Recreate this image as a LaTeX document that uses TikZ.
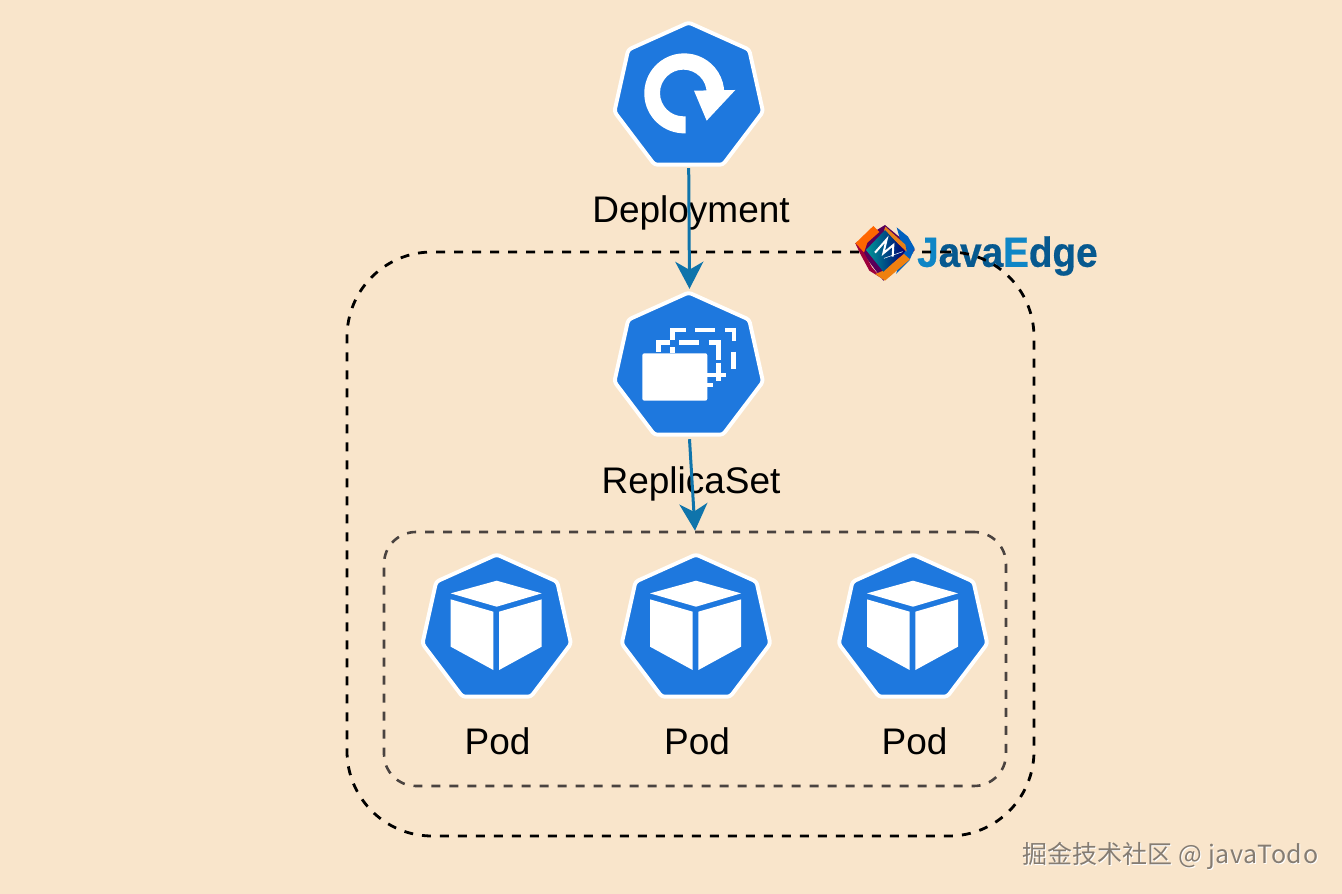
\documentclass[tikz,border=0pt]{standalone}
\usepackage{fontspec}
\setmainfont{Liberation Sans}
\newfontfamily\cjkfont{Noto Sans CJK SC}
\newfontfamily\wmlatin[LetterSpace=2.4]{Noto Sans CJK SC}
\newfontfamily\logofont[FakeBold=0.7]{Liberation Sans Bold}
\usetikzlibrary{arrows.meta,shadings}
\definecolor{bgcol}{HTML}{F9E5CB}
\definecolor{kblue}{HTML}{1E78DE}
\definecolor{arrowcol}{HTML}{0F74AB}
\definecolor{innerdash}{HTML}{4A4340}
\definecolor{wmcol}{HTML}{857C72}
\definecolor{logoblue}{HTML}{0F86C6}
\definecolor{logodark}{HTML}{07598F}
\tikzset{
  x=1pt,y=1pt,
  hept/.pic={
    \fill[kblue,draw=white,line width=3.9pt,rounded corners=3pt,line join=round]
      (0,-1.8)--(60.5,-29)--(74.3,-91)--(34.2,-144)--(-34.2,-144)--(-74.3,-91)--(-60.5,-29)--cycle;
  },
  podglyph/.pic={
    \begin{scope}[scale=1/3,yscale=-1]
      \fill[white] (0,84)--(135,122)--(0,162)--(-138,122)--cycle;
      \fill[white] (-138,140)--(-10,177)--(-10,352)--(-138,282)--cycle;
      \fill[white] (7,177)--(135,140)--(135,282)--(7,352)--cycle;
    \end{scope}
  },
  frameouter/.style={draw=black,line width=2.8pt,dash pattern=on 9pt off 9pt,rounded corners=85pt,inner sep=0pt},
  frameinner/.style={draw=innerdash,line width=2.6pt,dash pattern=on 9pt off 9pt,rounded corners=32pt,inner sep=0pt},
  flow/.style={draw=arrowcol,line width=3pt,-{Stealth[length=27pt,width=28pt,inset=8pt]}},
  label/.style={font=\fontsize{37}{40}\selectfont,text=black,inner sep=0pt},
  slot/.style={inner sep=0pt,minimum width=150pt,minimum height=150pt},
  rsline/.style={draw=white,line width=4.6pt},
}
\begin{document}
\begin{tikzpicture}
\useasboundingbox (0,0) rectangle (1342,894);
\fill[bgcol] (0,0) rectangle (1342,894);

% logo wordmark (under the frame)
\node[inner sep=0pt,anchor=west,font=\logofont\fontsize{42}{44}\selectfont,xscale=0.92] (logotext) at (917,894-256)
  {\textcolor{logoblue}{J}\textcolor{logodark}{ava}\textcolor{logoblue}{E}\textcolor{logodark}{dge}};

% frames
\node[frameouter,minimum width=687pt,minimum height=584pt] (outerbox) at (690.5,894-544) {};
\node[frameinner,minimum width=622pt,minimum height=254pt] (podbox) at (695,894-659) {};

% slots for icons
\node[slot] (dep) at (688.7,894-93) {};
\node[slot] (rs) at (689.5,894-364) {};

% labels
\node[label] (deplabel) at (691,894-213) {Deployment};
\node[label] (rslabel) at (691,894-484) {ReplicaSet};
\node[label] (pod1) at (497.5,894-741) {Pod};
\node[label] (pod2) at (697,894-741) {Pod};
\node[label] (pod3) at (914.5,894-741) {Pod};

% connectors
\draw[flow] (dep.south) -- (rs.north);
\draw[flow] (rs.south) -- (podbox.north);

% heptagons
\pic at (688.7,894-20.7) {hept};
\pic at (688.7,894-290.7) {hept};
\pic at (496.7,894-552.7) {hept};
\pic at (696,894-552.7) {hept};
\pic at (913,894-552.7) {hept};

% pod glyphs
\pic at (496.7,894-552.7) {podglyph};
\pic at (696,894-552.7) {podglyph};
\pic at (913,894-552.7) {podglyph};

% deployment glyph
\begin{scope}[shift={(590,894)},scale=1/3,yscale=-1]
  \fill[white] (287,400) arc[start angle=88,end angle=360,radius=120]
     -- (350,279) arc[start angle=360,end angle=90,radius=70] -- (287,349) -- cycle;
  \fill[white] (312,272)--(436,270)--(350,362)--cycle;
\end{scope}

% replicaset glyph
\begin{scope}[shift={(590,894-270)},scale=1/3,yscale=-1]
  \fill[white,rounded corners=2pt] (157,250) rectangle (352,392);
  \draw[rsline] (248,210)--(248,180)--(288,180);
  \draw[rsline] (316,180)--(375,180);
  \draw[rsline] (405,180)--(432,180)--(432,212);
  \draw[rsline] (430,245)--(430,298);
  \draw[rsline] (205,245)--(205,218)--(240,218);
  \draw[rsline] (268,218)--(326,218);
  \draw[rsline] (356,218)--(385,218)--(385,270);
  \draw[rsline] (385,278)--(385,333);
  \draw[rsline] (352,315)--(407,315);
  \draw[rsline] (352,345)--(370,345);
  \draw[rsline] (248,232)--(248,250);
\end{scope}

% logo emblem
\begin{scope}[shift={(840,894-210)},scale=1/3,yscale=-1]
  \fill[violet!70!black] (135,45)--(225,120)--(130,212)--(46,100)--cycle;
  \fill[orange!80!red] (100,48)--(118,66)--(82,98)--(72,128)--(46,100)--cycle;
  \fill[red!45!violet!85!black] (46,100)--(72,128)--(96,172)--(125,205)--(88,182)--(60,130)--cycle;
  \fill[blue!50!cyan!75!black] (170,52)--(204,80)--(224,115)--(208,152)--(168,192)--(188,135)--(200,115)--(180,88)--cycle;
  \fill[orange!75!brown] (192,132)--(210,148)--(135,212)--(106,192)--(130,182)--cycle;
  \fill[orange!60!brown] (136,50)--(196,104)--(200,125)--(132,62)--cycle;
  \shade[left color=teal!80!cyan,right color=blue!45!black] (135,60)--(195,125)--(130,185)--(78,120)--cycle;
  \draw[white,line width=2pt] (105,128)--(140,88)--(130,130)--(160,105)--(158,140);
  \draw[white,line width=.5pt] (132,145)--(188,125);
\end{scope}

% watermark
\node[inner sep=0pt,anchor=west,text=white] at (1023.6,894-857) {\fontsize{25}{28}\selectfont\cjkfont 掘金技术社区 \wmlatin @ javaTodo};
\node[inner sep=0pt,anchor=west,text=wmcol] (wm) at (1022.6,894-856) {\fontsize{25}{28}\selectfont\cjkfont 掘金技术社区 \wmlatin @ javaTodo};
\end{tikzpicture}
\end{document}
